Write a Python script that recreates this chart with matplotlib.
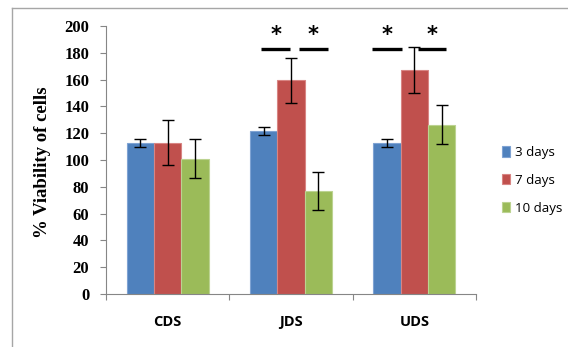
import matplotlib
matplotlib.use("Agg")
import matplotlib.pyplot as plt
import numpy as np

categories = ["CDS", "JDS", "UDS"]
series = ["3 days", "7 days", "10 days"]
means = {
    "3 days": [112.5, 122.0, 112.5],
    "7 days": [113.0, 159.5, 167.0],
    "10 days": [101.0, 77.0, 126.5],
}
errors = {
    "3 days": [3.0, 3.0, 3.0],
    "7 days": [17.0, 17.0, 17.0],
    "10 days": [14.5, 14.0, 14.5],
}
# significance brackets: (start, end) in category units, drawn at height sig_y
sig_spans = [(0.76, 0.99), (1.065, 1.30), (1.66, 1.90), (2.03, 2.26)]
sig_y = 183

colors = {"3 days": "#4F81BD", "7 days": "#C0504D", "10 days": "#9BBB59"}
edges = {"3 days": "#7FA3D3", "7 days": "#D88583", "10 days": "#BCD391"}

fig = plt.figure(figsize=(5.68, 3.47), dpi=100)
ax = fig.add_axes([0.1866, 0.1527, 0.6514, 0.7723])

x = np.arange(len(categories))
width = 0.222
for i, s in enumerate(series):
    pos = x + (i - 1) * width
    ax.bar(pos, means[s], width, color=colors[s], edgecolor=edges[s],
           linewidth=0.8, label=s, zorder=2)
    ax.errorbar(pos, means[s], yerr=errors[s], fmt="none", ecolor="black",
                elinewidth=1.0, capsize=4, capthick=1.0, zorder=3)

for a, b in sig_spans:
    ax.plot([a, b], [sig_y, sig_y], color="black", lw=2.4,
            solid_capstyle="butt", zorder=4)
    ax.text((a + b) / 2, sig_y + 5.5, "*", ha="center", va="baseline",
            fontsize=15, fontweight="bold", family="DejaVu Sans")

ax.set_xlim(-0.5, 2.5)
ax.set_ylim(0, 200)
ax.set_yticks(np.arange(0, 201, 20))
ax.set_xticks([-0.5, 0.5, 1.5, 2.5])
ax.set_xticklabels([])
ax.tick_params(axis="x", length=4.5, width=0.8, color="#868686", direction="out")
ax.tick_params(axis="y", length=4, width=0.8, color="#868686", direction="out",
               pad=8)
for lab in ax.get_yticklabels():
    lab.set_family("Liberation Serif")
    lab.set_fontweight("bold")
    lab.set_fontsize(12)

for xi, c in zip(x, categories):
    ax.text(xi, -0.105, c, transform=ax.get_xaxis_transform(), ha="center",
            va="center", fontsize=10.5, fontweight="bold", family="Open Sans")

for side in ["top", "right"]:
    ax.spines[side].set_visible(False)
for side in ["left", "bottom"]:
    ax.spines[side].set_color("#868686")
    ax.spines[side].set_linewidth(0.8)

fig.text(43 / 568, 1 - 162 / 347, "% Viability of cells", rotation=90,
         ha="center", va="center", family="Liberation Serif",
         fontweight="bold", fontsize=13.5)

leg = fig.legend(loc="upper left", bbox_to_anchor=(0.874, 0.594),
                 frameon=False, prop={"family": "Open Sans", "size": 9.6},
                 handlelength=0.65, handleheight=0.8, handletextpad=0.35,
                 labelspacing=1.1, borderaxespad=0)

# outer frame
fig.add_artist(plt.Line2D([12 / 568, 12 / 568], [0, 1 - 8 / 347],
                          transform=fig.transFigure, color="#A6A6A6", lw=1))
fig.add_artist(plt.Line2D([12 / 568, 1], [1 - 8 / 347, 1 - 8 / 347],
                          transform=fig.transFigure, color="#A6A6A6", lw=1))

fig.savefig("out.png", dpi=100)
